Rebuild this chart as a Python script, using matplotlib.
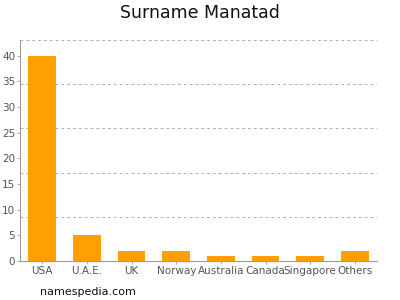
import matplotlib.pyplot as plt
import numpy as np

countries = ['USA', 'U.A.E.', 'UK', 'Norway', 'Australia', 'Canada', 'Singapore', 'Others']
counts = [40, 5, 2, 2, 1, 1, 1, 2]

fig = plt.figure(figsize=(4, 3), dpi=100)
ax = fig.add_axes([0.05, 0.13, 0.893, 0.737])

x = np.arange(len(countries))
ax.bar(x, counts, width=0.62, color='#ffa000', zorder=3)

ymax = 43.1
ax.set_ylim(0, ymax)
ax.set_xlim(-0.5, len(countries) - 0.5)
ax.set_yticks(range(0, 45, 5))
for g in np.linspace(ymax / 5, ymax, 5):
    ax.axhline(g, color='#b0b0b0', linestyle=(0, (3, 3)), linewidth=0.7, zorder=1)

ax.set_xticks(x)
ax.set_xticklabels(countries)
ax.tick_params(axis='both', labelsize=7.5, colors='#999999', labelcolor='#555555',
               length=2.5, width=0.6, pad=1)
for s in ['top', 'right']:
    ax.spines[s].set_visible(False)
for s in ['left', 'bottom']:
    ax.spines[s].set_color('#999999')
    ax.spines[s].set_linewidth(0.8)

fig.text(0.5, 0.955, 'Surname Manatad', ha='center', va='center', fontsize=12.5, color='#111111')
fig.text(0.1, 0.028, 'namespedia.com', ha='left', va='center', fontsize=8, color='#111111')

fig.savefig('out.png', dpi=100)
